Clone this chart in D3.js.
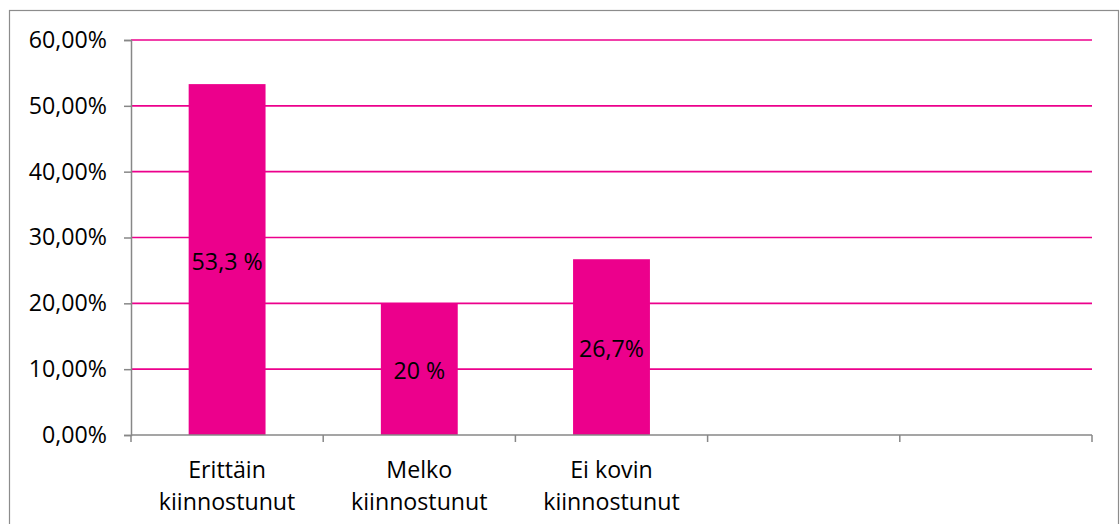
<!DOCTYPE html>
<html><head><meta charset="utf-8">
<script src="https://cdn.jsdelivr.net/npm/d3@7"></script>
<style>
html,body{margin:0;padding:0;background:#fff;}
svg{display:block;font-family:"Open Sans",sans-serif;}
</style></head>
<body><svg id="c" width="1120" height="524"></svg>
<script>
const categories = [["Erittäin","kiinnostunut"],["Melko","kiinnostunut"],["Ei kovin","kiinnostunut"],[],[]];
const values = [53.3, 20, 26.7, null, null];
const valueLabels = ["53,3 %", "20 %", "26,7%", "", ""];
const yTicks = [0, 10, 20, 30, 40, 50, 60];
const yTickLabels = ["0,00%","10,00%","20,00%","30,00%","40,00%","50,00%","60,00%"];

const svg = d3.select("#c");
const L = 131, R = 1092, T = 40, B = 435;
const barColor = "#EC008C", axisColor = "#878787";
const fs = 23.2;

// outer border
svg.append("rect").attr("x", 9.5).attr("y", 10.5).attr("width", 1109).attr("height", 530)
  .attr("fill", "none").attr("stroke", "#8c8c8c").attr("stroke-width", 1.2);

const x = d3.scaleBand().domain(d3.range(categories.length)).range([L, R]).padding(0);
const y = d3.scaleLinear().domain([0, 60]).range([B, T]);

// gridlines
svg.append("g").selectAll("line").data(yTicks.filter(d => d > 0)).join("line")
  .attr("x1", L).attr("x2", R).attr("y1", d => y(d)).attr("y2", d => y(d))
  .attr("stroke", barColor).attr("stroke-width", 1.7);

// bars
const bw = x.bandwidth() * 0.4;
const idx = d3.range(values.length).filter(i => values[i] != null);
svg.append("g").selectAll("rect").data(idx).join("rect")
  .attr("x", i => x(i) + x.bandwidth() / 2 - bw / 2)
  .attr("width", bw)
  .attr("y", i => y(values[i]))
  .attr("height", i => y(0) - y(values[i]))
  .attr("fill", barColor);

// value labels
svg.append("g").selectAll("text").data(idx).join("text")
  .attr("x", i => x(i) + x.bandwidth() / 2)
  .attr("y", i => y(values[i] / 2) + 2)
  .attr("dy", "0.35em")
  .attr("text-anchor", "middle")
  .attr("font-size", fs).attr("fill", "#000")
  .text(i => valueLabels[i]);

// y axis
const yAxis = d3.axisLeft(y).tickValues(yTicks).tickSize(7).tickPadding(17)
  .tickFormat((d, i) => yTickLabels[i]);
const gy = svg.append("g").attr("transform", `translate(${L},0)`).call(yAxis);
gy.select(".domain").attr("stroke", axisColor).attr("stroke-width", 1.5);
gy.selectAll(".tick line").attr("stroke", axisColor).attr("stroke-width", 1.5);
gy.selectAll(".tick text").attr("font-size", fs).attr("font-family", "Open Sans").attr("fill", "#000");

// x axis
svg.append("line").attr("x1", L).attr("x2", R).attr("y1", B).attr("y2", B)
  .attr("stroke", axisColor).attr("stroke-width", 1.5);
const bounds = d3.range(categories.length + 1).map(i => i < categories.length ? x(i) : R);
svg.append("g").selectAll("line").data(bounds).join("line")
  .attr("x1", d => d).attr("x2", d => d).attr("y1", B).attr("y2", B + 7)
  .attr("stroke", axisColor).attr("stroke-width", 1.5);

// category labels
const cl = svg.append("g").selectAll("text").data(d3.range(categories.length)).join("text")
  .attr("text-anchor", "middle").attr("font-size", fs).attr("fill", "#000")
  .attr("x", i => x(i) + x.bandwidth() / 2).attr("y", 478);
cl.selectAll("tspan").data(i => categories[i].map(t => ({t, x: x(i) + x.bandwidth() / 2}))).join("tspan")
  .attr("x", d => d.x).attr("dy", (d, j) => j === 0 ? 0 : 32).text(d => d.t);
</script></body></html>
